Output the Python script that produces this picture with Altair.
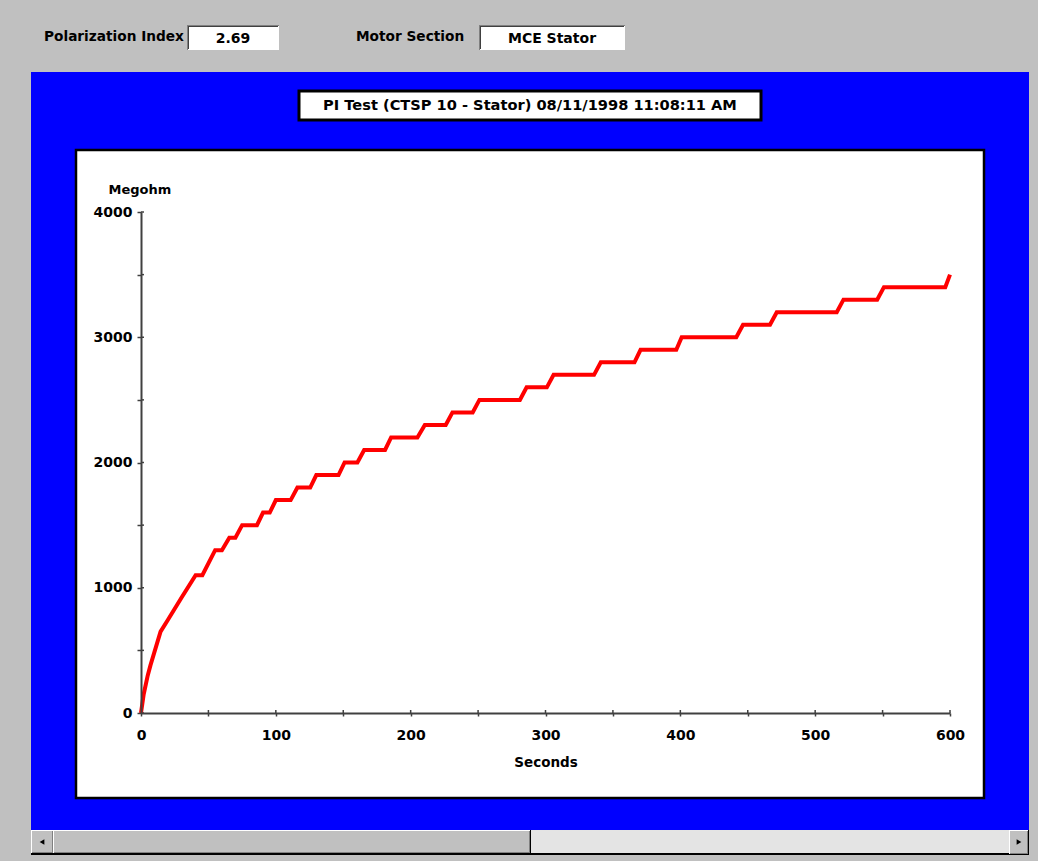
import altair as alt
import pandas as pd

# ---- data ----
seconds = [0, 2, 5, 7, 14.5, 20, 30, 40.5, 45.5, 55, 60, 65.5, 70, 75, 86, 90.5, 95.5,
           100, 111, 116, 125.5, 130, 146.5, 151, 160.5, 165.5, 181, 185.5, 205, 210.5,
           226, 231, 246, 251, 281, 286, 301, 306, 336, 341, 366, 370.5, 397, 401, 441.5,
           446.5, 466.5, 471.5, 516, 521, 546, 551, 596.5, 600]
megohm = [0, 150, 300, 380, 650, 745, 920, 1100, 1100, 1300, 1300, 1400, 1400, 1500, 1500,
          1600, 1600, 1700, 1700, 1800, 1800, 1900, 1900, 2000, 2000, 2100, 2100, 2200, 2200,
          2300, 2300, 2400, 2400, 2500, 2500, 2600, 2600, 2700, 2700, 2800, 2800, 2900, 2900,
          3000, 3000, 3100, 3100, 3200, 3200, 3300, 3300, 3400, 3400, 3500]
x_ticks = list(range(0, 601, 50))
y_ticks = list(range(0, 4001, 500))

title_text = "PI Test (CTSP 10 - Stator) 08/11/1998 11:08:11 AM"
pi_label, pi_value = "Polarization Index", "2.69"
sec_label, sec_value = "Motor Section", "MCE Stator"

df = pd.DataFrame({"Seconds": seconds, "Megohm": megohm})
ticks_df = pd.DataFrame({"t": x_ticks})
yticks_df = pd.DataFrame({"t": y_ticks})

# plot-area origin in the page
OX, OY = 141, 212
W, H = 809, 501
FONT = "DejaVu Sans"
one = alt.Data(values=[{}])


def rect(x1, y1, x2, y2, fill, stroke=None, sw=0):
    kw = dict(fill=fill)
    if stroke:
        kw.update(stroke=stroke, strokeWidth=sw)
    return alt.Chart(one).mark_rect(**kw).encode(
        x=alt.value(x1 - OX), x2=alt.value(x2 - OX),
        y=alt.value(y1 - OY), y2=alt.value(y2 - OY))


def text(s, x, y, size=14, align="center"):
    return alt.Chart(one).mark_text(
        text=s, font=FONT, fontWeight="bold", fontSize=size, color="black",
        align=align, baseline="middle").encode(x=alt.value(x - OX), y=alt.value(y - OY))


def tri(shape, x, y):
    return alt.Chart(one).mark_point(shape=shape, filled=True, color="black", size=30, opacity=1).encode(
        x=alt.value(x - OX), y=alt.value(y - OY))


deco = [
    # blue panel
    rect(31, 72, 1029, 830, "#0000FF"),
    # white plot box
    rect(76, 150, 984, 798, "white", "black", 2.5),
    # title box
    rect(299, 91, 761, 120, "white", "black", 3),
    text(title_text, 530, 106, 14.6),
    # header
    text(pi_label, 44, 37, 13.7, "left"),
    rect(187, 25, 279, 50, "#808080"),
    rect(188, 26, 279, 50, "white"),
    rect(188, 26, 278, 27, "#404040"),
    rect(188, 26, 189, 49, "#404040"),
    text(pi_value, 233, 39, 14),
    text(sec_label, 356, 37, 13.7, "left"),
    rect(479, 25, 625, 50, "#808080"),
    rect(480, 26, 625, 50, "white"),
    rect(480, 26, 624, 27, "#404040"),
    rect(480, 26, 481, 49, "#404040"),
    text(sec_value, 552, 39, 14),
    # scrollbar
    rect(31, 830, 1029, 855, "black"),
    rect(31, 830, 1028, 853, "#E4E4E4"),
    rect(31, 830, 53, 853, "white"),
    rect(32, 831, 53, 853, "#808080"),
    rect(32, 831, 52, 852, "#C0C0C0"),
    rect(53, 830, 531, 854, "black"),
    rect(53, 830, 530, 853, "white"),
    rect(54, 831, 530, 853, "#808080"),
    rect(54, 831, 529, 852, "#C0C0C0"),
    rect(1009, 830, 1029, 855, "black"),
    rect(1009, 830, 1028, 854, "white"),
    rect(1010, 831, 1028, 854, "#808080"),
    rect(1010, 831, 1027, 853, "#C0C0C0"),
    tri("triangle-left", 42, 842),
    tri("triangle-right", 1019, 842),
]

x_scale = alt.Scale(domain=[0, 600], nice=False, zero=True)
y_scale = alt.Scale(domain=[0, 4000], nice=False, zero=True)

x_axis = alt.Axis(values=x_ticks, labelExpr="datum.value % 100 == 0 ? datum.label : ''",
                  format="d", title="Seconds", titleFont=FONT, titleFontSize=13.5,
                  titleFontWeight="bold", titleColor="black", titlePadding=13,
                  labelFont=FONT, labelFontSize=14, labelFontWeight="bold", labelColor="black",
                  labelPadding=12, tickSize=3, tickColor="#404040", tickWidth=1.5,
                  domainColor="#404040", domainWidth=2, grid=False, zindex=1,
                  labelFlush=False, labelOverlap=False)
y_axis = alt.Axis(values=y_ticks, labelExpr="datum.value % 1000 == 0 ? datum.label : ''",
                  format="d", title="Megohm", titleAngle=0, titleAlign="left",
                  titleBaseline="alphabetic", titleX=-33, titleY=-19,
                  titleFont=FONT, titleFontSize=13, titleFontWeight="bold", titleColor="black",
                  labelFont=FONT, labelFontSize=14, labelFontWeight="bold", labelColor="black",
                  labelPadding=5, tickSize=4, tickColor="#404040", tickWidth=1.5,
                  domainColor="#404040", domainWidth=2, grid=False, zindex=1,
                  labelFlush=False, labelOverlap=False)

line = alt.Chart(df).mark_line(color="#FF0000", strokeWidth=4, strokeJoin="miter").encode(
    x=alt.X("Seconds:Q", scale=x_scale, axis=x_axis),
    y=alt.Y("Megohm:Q", scale=y_scale, axis=y_axis),
)

inner_x = alt.Chart(ticks_df).mark_rule(color="#404040", strokeWidth=1.5).encode(
    x=alt.X("t:Q", scale=x_scale), y=alt.value(H - 3), y2=alt.value(H))
inner_y = alt.Chart(yticks_df).mark_rule(color="#404040", strokeWidth=1.5).encode(
    y=alt.Y("t:Q", scale=y_scale), x=alt.value(0), x2=alt.value(3))

chart = alt.layer(*deco, inner_x, inner_y, line).properties(
    width=W, height=H,
    background="#C0C0C0",
    padding={"left": OX, "top": OY, "right": 1038 - OX - W, "bottom": 861 - OY - H},
    autosize=alt.AutoSizeParams(type="none"),
).configure_view(strokeWidth=0, fill=None)

chart.save("out.html", embed_options={"renderer": "svg", "actions": False})
